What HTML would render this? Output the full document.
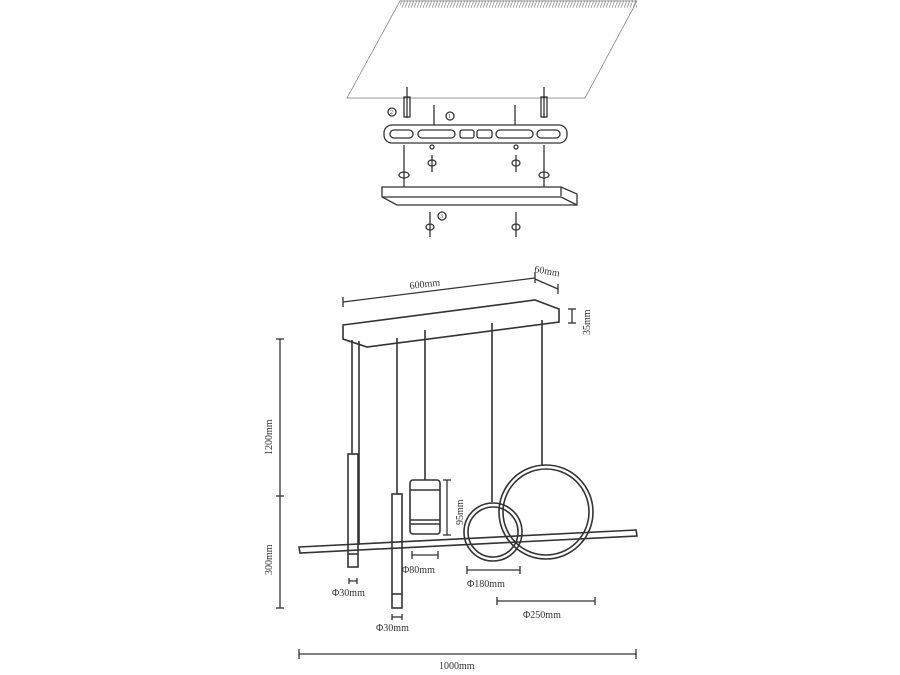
<!DOCTYPE html>
<html><head><style>body{margin:0;background:#fff}svg{display:block}text{font-family:"Liberation Serif",serif;fill:#333}</style></head>
<body>
<svg width="900" height="675" viewBox="0 0 900 675" xmlns="http://www.w3.org/2000/svg">
<defs><pattern id="h" width="3" height="8" patternUnits="userSpaceOnUse"><line x1="0" y1="8" x2="3" y2="0" stroke="#888" stroke-width="0.7"/></pattern></defs>
<g fill="none" stroke="#777" stroke-width="0.7">
<polygon points="400,1 637,1 585,98 347,98"/>
</g>
<rect x="400" y="0" width="237" height="8" fill="url(#h)"/>
<g fill="none" stroke="#333" stroke-width="1.3">
<rect x="384" y="125" width="183" height="18" rx="8"/>
<rect x="390" y="130" width="23" height="8" rx="4"/>
<rect x="418" y="130" width="37" height="8" rx="4"/>
<rect x="460" y="130" width="14" height="8" rx="2"/>
<rect x="477" y="130" width="15" height="8" rx="2"/>
<rect x="496" y="130" width="37" height="8" rx="4"/>
<rect x="537" y="130" width="23" height="8" rx="4"/>
<polygon points="382,187 561,187 577,194 577,205 397,205 382,197"/>
<line x1="561" y1="187" x2="561" y2="196"/><line x1="382" y1="197" x2="561" y2="197"/><line x1="561" y1="197" x2="577" y2="205"/>
<line x1="407" y1="87" x2="407" y2="118"/><line x1="434" y1="105" x2="434" y2="125"/><line x1="515" y1="105" x2="515" y2="125"/><line x1="544" y1="87" x2="544" y2="118"/>
<rect x="404" y="97" width="6" height="20"/><rect x="541" y="97" width="6" height="20"/>
<line x1="404" y1="145" x2="404" y2="187"/><line x1="544" y1="145" x2="544" y2="187"/>
<line x1="432" y1="155" x2="432" y2="172"/><line x1="516" y1="155" x2="516" y2="172"/>
<line x1="430" y1="212" x2="430" y2="237"/><line x1="516" y1="212" x2="516" y2="237"/>
<ellipse cx="404" cy="175" rx="5" ry="3"/><ellipse cx="544" cy="175" rx="5" ry="3"/>
<ellipse cx="432" cy="163" rx="4" ry="3"/><ellipse cx="516" cy="163" rx="4" ry="3"/>
<ellipse cx="430" cy="227" rx="4" ry="3"/><ellipse cx="516" cy="227" rx="4" ry="3"/>
<circle cx="432" cy="147" r="2"/><circle cx="516" cy="147" r="2"/>
<circle cx="392" cy="112" r="4"/><circle cx="450" cy="116" r="4"/><circle cx="442" cy="216" r="4"/>
</g>
<text x="390" y="114" font-size="6">2</text><text x="448" y="118" font-size="6">1</text><text x="440" y="218" font-size="6">3</text>
<g fill="none" stroke="#333" stroke-width="1.6">
<polygon points="343,325 535,300 559,309 559,322 367,347 343,339"/>
<line x1="352" y1="340" x2="352" y2="454"/><line x1="359" y1="341" x2="359" y2="545"/>
<line x1="397" y1="338" x2="397" y2="494"/><line x1="425" y1="330" x2="425" y2="480"/>
<line x1="492" y1="323" x2="492" y2="502"/><line x1="542" y1="320" x2="542" y2="465"/>
<polygon points="299,547 636,530 637,536 300,553"/>
<rect x="348" y="454" width="10" height="113"/><line x1="348" y1="554" x2="358" y2="554"/>
<rect x="392" y="494" width="10" height="114"/><line x1="392" y1="594" x2="402" y2="594"/>
<rect x="410" y="480" width="30" height="54" rx="3"/><line x1="410" y1="490" x2="440" y2="490"/><line x1="410" y1="520" x2="440" y2="520"/><line x1="410" y1="524" x2="440" y2="524"/>
<circle cx="493" cy="532" r="29"/><circle cx="493" cy="532" r="25"/>
<circle cx="546" cy="512" r="47"/><circle cx="546" cy="512" r="43"/>
</g>
<g stroke="#333" stroke-width="1.3" fill="none">
<line x1="343" y1="302" x2="535" y2="278"/><line x1="343" y1="297" x2="343" y2="307"/><line x1="535" y1="272" x2="535" y2="283"/>
<line x1="535" y1="279" x2="558" y2="289"/><line x1="558" y1="284" x2="558" y2="294"/>
<line x1="572" y1="309" x2="572" y2="323"/><line x1="568" y1="309" x2="576" y2="309"/><line x1="568" y1="323" x2="576" y2="323"/>
<line x1="280" y1="339" x2="280" y2="608"/><line x1="276" y1="339" x2="284" y2="339"/><line x1="276" y1="496" x2="284" y2="496"/><line x1="276" y1="608" x2="284" y2="608"/>
<line x1="299" y1="654" x2="636" y2="654"/><line x1="299" y1="649" x2="299" y2="659"/><line x1="636" y1="649" x2="636" y2="659"/>
<line x1="447" y1="480" x2="447" y2="535"/><line x1="443" y1="480" x2="451" y2="480"/><line x1="443" y1="535" x2="451" y2="535"/>
<line x1="412" y1="555" x2="438" y2="555"/><line x1="412" y1="551" x2="412" y2="559"/><line x1="438" y1="551" x2="438" y2="559"/>
<line x1="467" y1="570" x2="520" y2="570"/><line x1="467" y1="566" x2="467" y2="574"/><line x1="520" y1="566" x2="520" y2="574"/>
<line x1="497" y1="601" x2="595" y2="601"/><line x1="497" y1="597" x2="497" y2="605"/><line x1="595" y1="597" x2="595" y2="605"/>
<line x1="349" y1="581" x2="357" y2="581"/><line x1="349" y1="578" x2="349" y2="584"/><line x1="357" y1="578" x2="357" y2="584"/>
<line x1="392" y1="617" x2="402" y2="617"/><line x1="392" y1="614" x2="392" y2="620"/><line x1="402" y1="614" x2="402" y2="620"/>
</g>
<g font-size="10">
<text x="410" y="289" transform="rotate(-7 410 289)">600mm</text>
<text x="534" y="272" transform="rotate(10 534 272)">60mm</text>
<text x="590" y="335" transform="rotate(-90 590 335)">35mm</text>
<text x="272" y="455" transform="rotate(-90 272 455)">1200mm</text>
<text x="272" y="575" transform="rotate(-90 272 575)">300mm</text>
<text x="463" y="525" transform="rotate(-90 463 525)">95mm</text>
<text x="402" y="573">Φ80mm</text>
<text x="467" y="587">Φ180mm</text>
<text x="523" y="618">Φ250mm</text>
<text x="332" y="596">Φ30mm</text>
<text x="376" y="631">Φ30mm</text>
<text x="439" y="669">1000mm</text>
</g>
</svg>
</body></html>
